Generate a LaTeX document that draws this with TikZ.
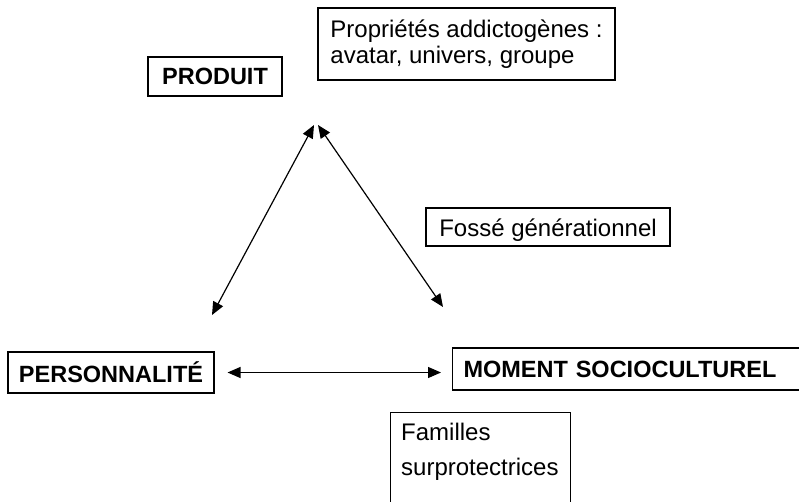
\documentclass[tikz,border=0pt]{standalone}
\usepackage{fontspec}
\setmainfont{Liberation Sans}
\usetikzlibrary{arrows.meta}
\begin{document}
\begin{tikzpicture}[x=1pt,y=-1pt,
  box/.style={draw,line width=1.1pt,inner sep=0pt},
  bigtitle/.style={box,font=\fontsize{23.5}{27}\selectfont\bfseries},
  note/.style={box,font=\fontsize{24}{26.5}\selectfont},
  notetext/.style={inner sep=0pt,align=left,font=\fontsize{24}{35}\selectfont},
  tip/.tip={Triangle[length=13pt,width=11pt]},
  link/.style={line width=1.2pt,tip-tip}]
\useasboundingbox (0,0) rectangle (799,501);
\clip (0,0) rectangle (799,501);

% main concepts
\node[bigtitle,minimum width=134pt,minimum height=39pt] (produit) at (215,76.5) {PRODUIT};
\node[bigtitle,minimum width=206pt,minimum height=41pt] (perso) at (111,372.5) {PERSONNALITÉ};
\node[bigtitle,anchor=west,text width=348pt,align=left,inner xsep=11pt,minimum height=42pt] (moment) at (452,369) {MOMENT SOCIOCULTUREL};

% annotations
\node[note,minimum width=297pt,minimum height=72pt,align=left] (prop) at (466.5,44) {Propriétés addictogènes :\\avatar, univers, groupe};
\node[note,minimum width=244pt,text height=28.5pt,text depth=9.5pt] (fosse) at (548,227) {Fossé générationnel};
\node[box,anchor=north west,minimum width=180pt,minimum height=110pt] (fam) at (390,412) {};
\node[notetext,anchor=north west] (famtxt) at ([shift={(11,10.5)}]fam.north west) {Familles\\surprotectrices};

% relations
\coordinate (apexL) at (314,125);
\coordinate (apexR) at (318,125);
\coordinate (endL) at (212,315);
\coordinate (endR) at (443,307);
\draw[link] (endL) -- (apexL);
\draw[link] (apexR) -- (endR);
\draw[link] ([xshift=13pt]perso.east) -- ([xshift=-11pt]moment.west |- perso.east);
\end{tikzpicture}
\end{document}
